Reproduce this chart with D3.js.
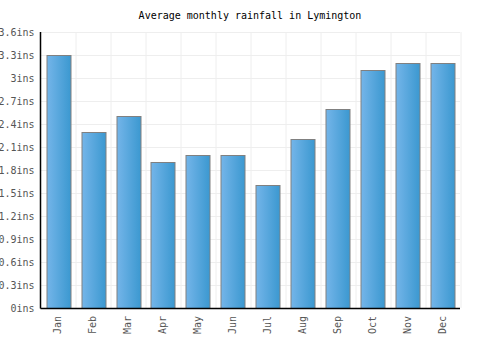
<!DOCTYPE html>
<html>
<head>
<meta charset="utf-8">
<script src="https://cdn.jsdelivr.net/npm/d3@7"></script>
<style>
  body { margin: 0; background: #fff; }
  text { font-family: "DejaVu Sans Mono", monospace; }
</style>
</head>
<body>
<script>
// data
var months = ['Jan', 'Feb', 'Mar', 'Apr', 'May', 'Jun', 'Jul', 'Aug', 'Sep', 'Oct', 'Nov', 'Dec'];
var rainfall = [3.3, 2.3, 2.5, 1.9, 2.0, 2.0, 1.6, 2.2, 2.6, 3.1, 3.2, 3.2];
var yTicks = [0, 0.3, 0.6, 0.9, 1.2, 1.5, 1.8, 2.1, 2.4, 2.7, 3, 3.3, 3.6];

var margin = { top: 32, right: 40, bottom: 42, left: 40.5 },
    width = 500 - margin.left - margin.right,
    height = 350 - margin.top - margin.bottom;

var svg = d3.select("body").append("svg")
    .attr("width", 500)
    .attr("height", 350);

var defs = svg.append("defs");
var grad = defs.append("linearGradient").attr("id", "barGrad")
    .attr("x1", "0%").attr("x2", "100%").attr("y1", "0%").attr("y2", "0%");
grad.append("stop").attr("offset", "0%").attr("stop-color", "#74b5e9");
grad.append("stop").attr("offset", "100%").attr("stop-color", "#3b98d0");

svg.append("text")
    .attr("x", 250).attr("y", 19)
    .attr("text-anchor", "middle")
    .style("font-size", "10px")
    .attr("fill", "#000")
    .text("Average monthly rainfall in Lymington");

var g = svg.append("g")
    .attr("transform", "translate(" + margin.left + "," + margin.top + ")");

var x = d3.scaleBand().domain(months).range([0, width]).paddingInner(0.32).paddingOuter(0.16);
var xb = d3.scaleBand().domain(months).range([0, width]);
var y = d3.scaleLinear().domain([0, 3.6]).range([height, 0]);

// grid
g.append("g").selectAll("line.h").data(yTicks).join("line")
    .attr("x1", 0).attr("x2", width)
    .attr("y1", function (d) { return Math.round(y(d)) + 0.5; })
    .attr("y2", function (d) { return Math.round(y(d)) + 0.5; })
    .attr("stroke", "#eeeeee");

g.append("g").selectAll("line.v").data(months).join("line")
    .attr("x1", function (d) { return Math.round(xb(d) + xb.bandwidth()) + 0.5; })
    .attr("x2", function (d) { return Math.round(xb(d) + xb.bandwidth()) + 0.5; })
    .attr("y1", 0).attr("y2", height)
    .attr("stroke", "#eeeeee");

// bars
g.append("g").selectAll("rect").data(rainfall).join("rect")
    .attr("x", function (d, i) { return Math.round(x(months[i])) + 0.5; })
    .attr("y", function (d) { return Math.round(y(d)) + 0.5; })
    .attr("width", Math.round(x.bandwidth()))
    .attr("height", function (d) { return Math.round(height - y(d)); })
    .attr("fill", "url(#barGrad)")
    .attr("stroke", "#808080")
    .attr("stroke-width", 1);

// y axis
var yAxis = g.append("g")
    .call(d3.axisLeft(y).tickValues(yTicks).tickSize(0).tickPadding(6)
        .tickFormat(function (d) { return d3.format("~g")(d) + "ins"; }));
yAxis.select(".domain").remove();
yAxis.selectAll("text").style("font-size", "10px").attr("fill", "#555");

// x axis
var xAxis = g.append("g")
    .attr("transform", "translate(0," + height + ")")
    .call(d3.axisBottom(xb).tickSize(0).tickPadding(8));
xAxis.select(".domain").remove();
xAxis.selectAll("text")
    .style("font-size", "10px").attr("fill", "#555")
    .attr("text-anchor", "end")
    .attr("dy", "0.35em")
    .attr("transform", "rotate(-90)")
    .attr("x", -8).attr("y", 0);

// axis lines
g.append("line").attr("x1", 0).attr("x2", 0).attr("y1", 0).attr("y2", height + 0.5)
    .attr("stroke", "#000").attr("stroke-width", 1.5);
g.append("line").attr("x1", 0).attr("x2", width).attr("y1", height + 0.5).attr("y2", height + 0.5)
    .attr("stroke", "#000").attr("stroke-width", 1.5);
</script>
</body>
</html>
